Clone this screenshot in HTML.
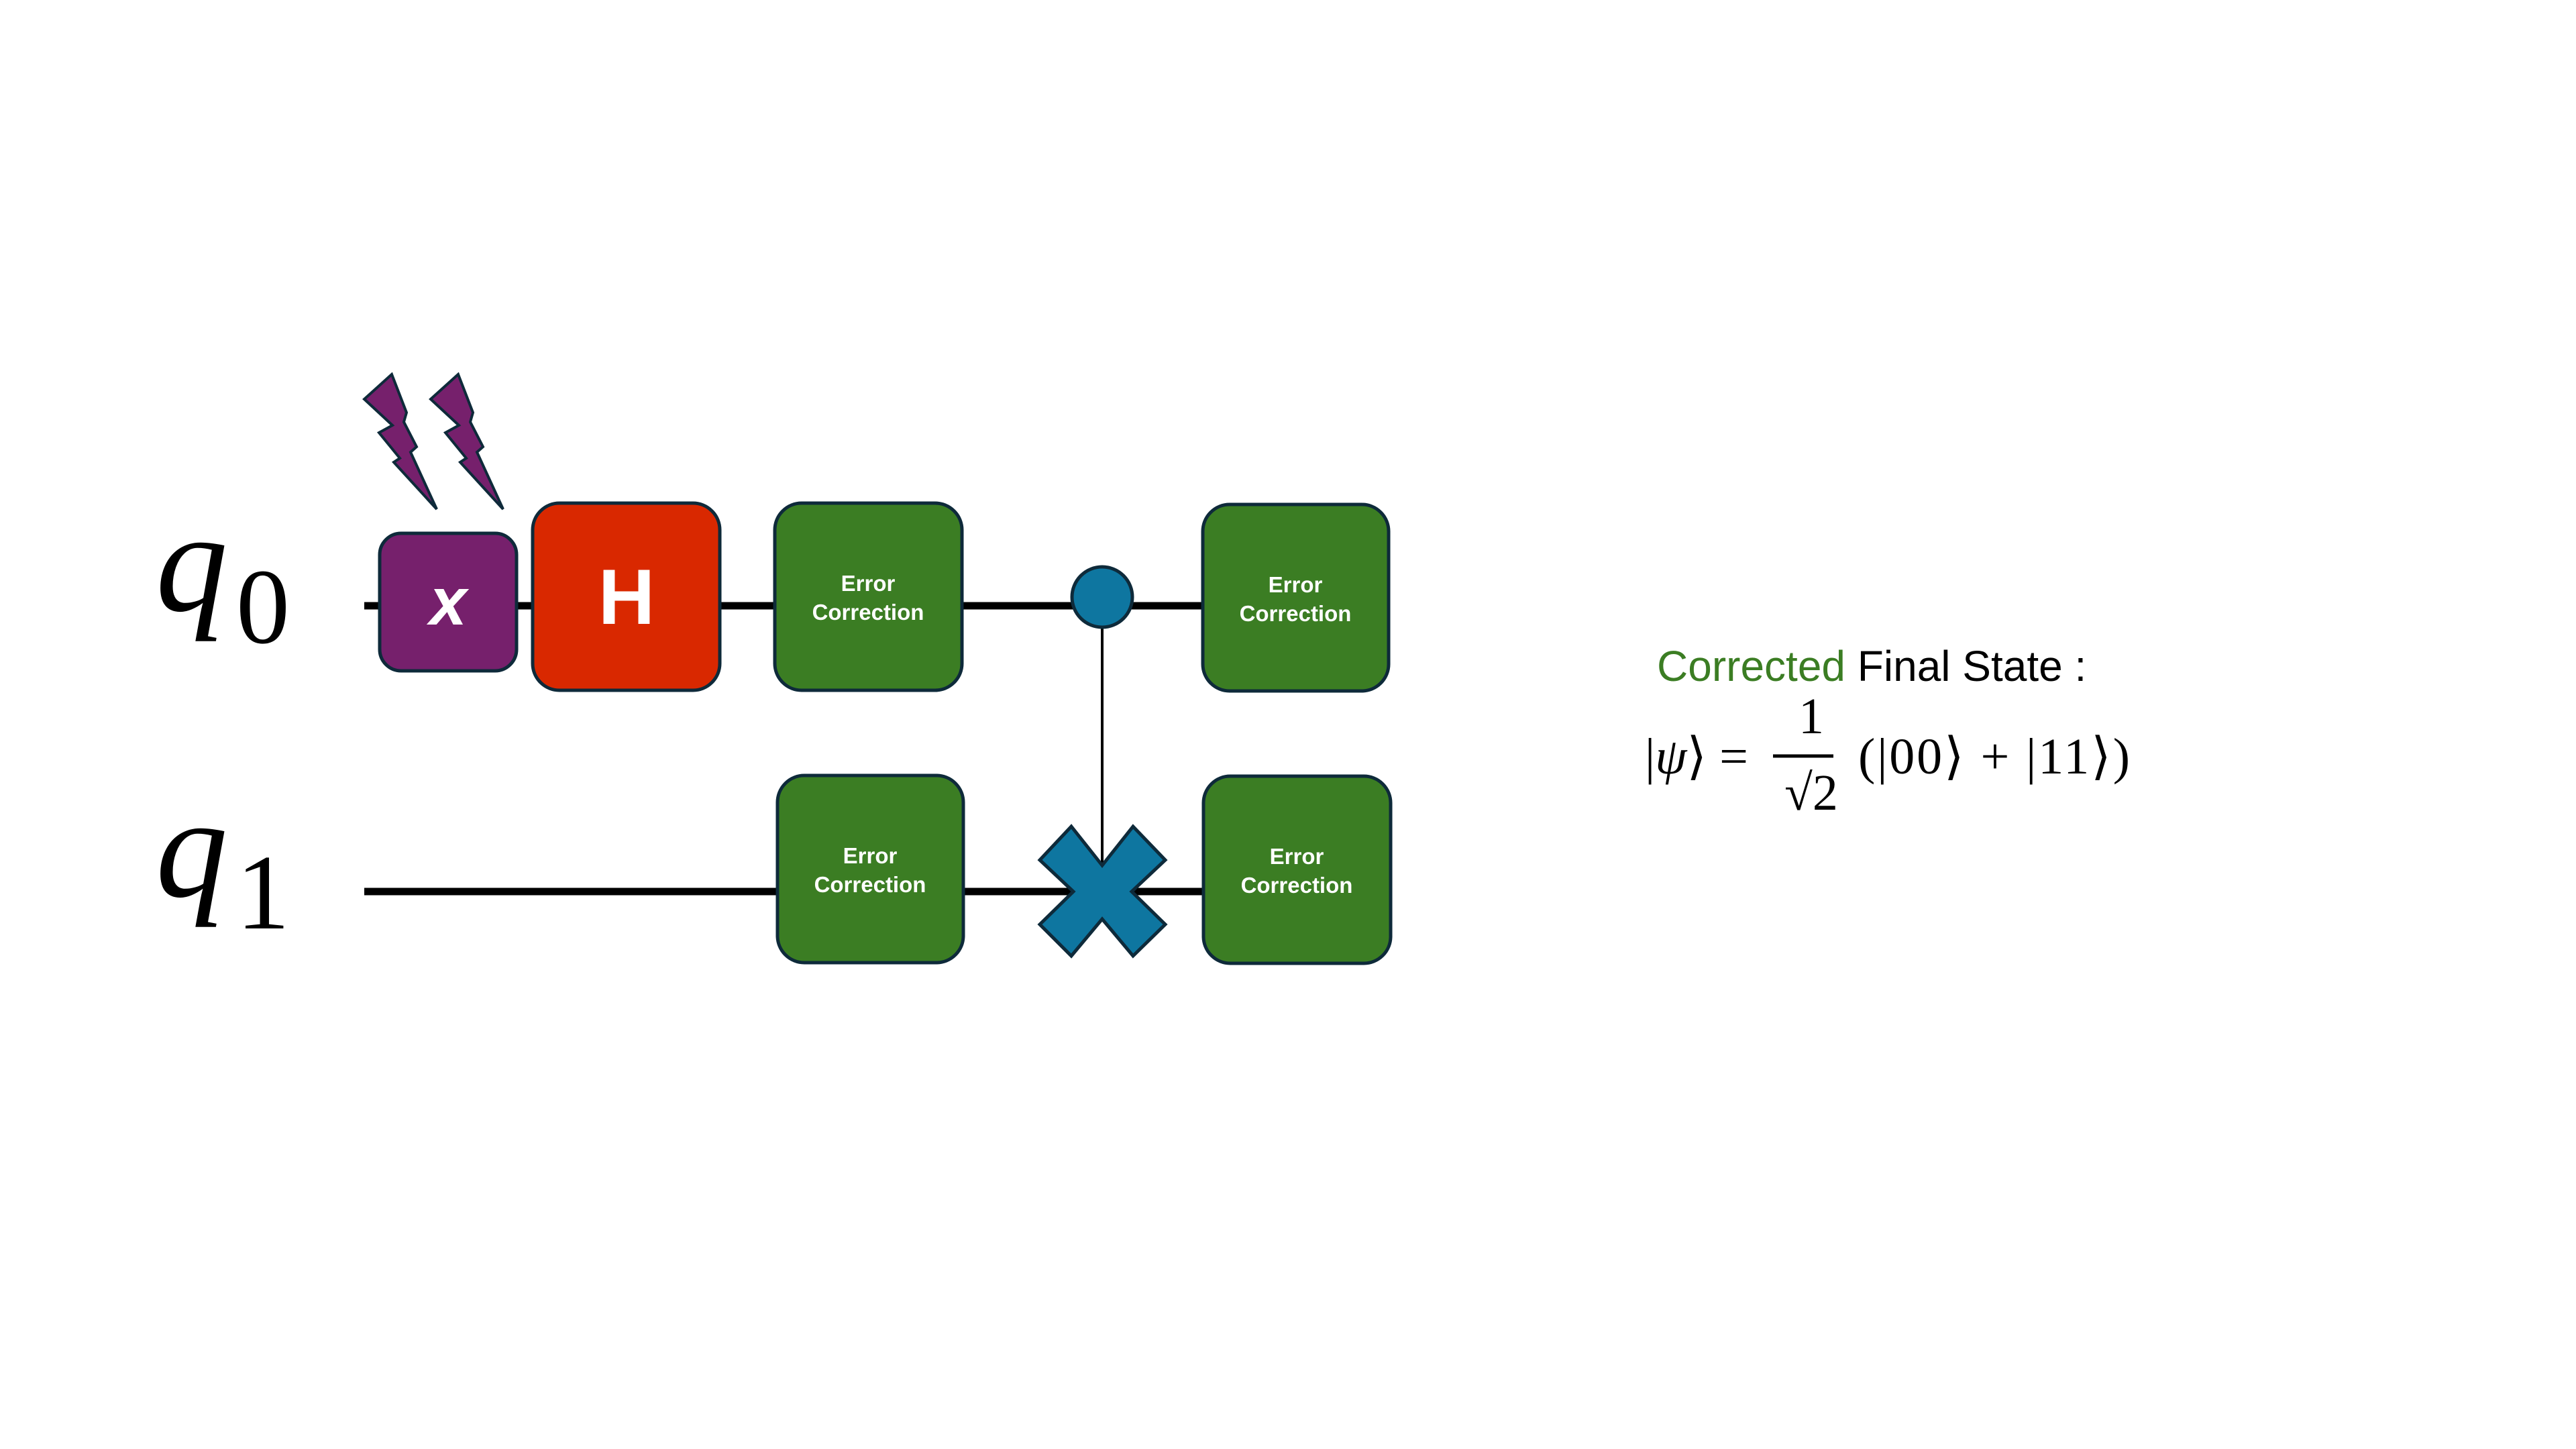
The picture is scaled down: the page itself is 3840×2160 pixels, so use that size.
<!DOCTYPE html>
<html><head><meta charset="utf-8"><style>
html,body{margin:0;padding:0;background:#fff;}
svg{display:block;}
</style></head><body>
<svg width="3840" height="2160" viewBox="0 0 3840 2160" xmlns="http://www.w3.org/2000/svg">
<rect width="3840" height="2160" fill="#fff"/>
<line x1="543" y1="903" x2="1795" y2="903" stroke="#000" stroke-width="11"/>
<line x1="543" y1="1329" x2="1795" y2="1329" stroke="#000" stroke-width="11"/>
<line x1="1643" y1="903" x2="1643" y2="1290" stroke="#000" stroke-width="4"/>
<g fill="#76206C" stroke="#0E2A3A" stroke-width="4" stroke-linejoin="miter">
<polygon points="584,558 543,595 585,634 565,645 596,683 587,689 651,759 612,674 621,666 602,629 606,615"/>
<polygon points="683,558 642,595 684,634 664,645 695,683 686,689 750,759 711,674 720,666 701,629 705,615"/>
</g>
<g stroke="#0E2A3A" stroke-width="5">
<rect x="566" y="795" width="204" height="205" rx="32" fill="#76206C"/>
<rect x="794" y="750" width="279" height="279" rx="40" fill="#D92800"/>
<rect x="1155" y="750" width="279" height="279" rx="40" fill="#3B7D23"/>
<rect x="1793" y="752" width="277" height="278" rx="40" fill="#3B7D23"/>
<rect x="1159" y="1156" width="277" height="279" rx="40" fill="#3B7D23"/>
<rect x="1794" y="1157" width="279" height="279" rx="40" fill="#3B7D23"/>
<circle cx="1643" cy="890" r="45" fill="#0E76A0"/>
<polygon fill="#0E76A0" points="1597,1232 1643,1290 1689,1232 1737,1282 1687,1329 1737,1378 1689,1425 1643,1370 1597,1425 1550,1378 1600,1329 1550,1282"/>
</g>
<g font-family="Liberation Sans, sans-serif" fill="#fff" font-weight="bold" text-anchor="middle">
<text x="668" y="931" font-size="100" font-style="italic">x</text>
<text x="934" y="930" font-size="117">H</text>
<g font-size="33">
<text x="1294" y="881">Error</text><text x="1294" y="924">Correction</text>
<text x="1931" y="883">Error</text><text x="1931" y="926">Correction</text>
<text x="1297" y="1287">Error</text><text x="1297" y="1330">Correction</text>
<text x="1933" y="1288">Error</text><text x="1933" y="1331">Correction</text>
</g>
</g>
<g font-family="Liberation Serif, serif" fill="#000">
<text x="232" y="910" font-size="215" font-style="italic">q</text>
<text x="352" y="958" font-size="160">0</text>
<text x="232" y="1336" font-size="215" font-style="italic">q</text>
<text x="352" y="1384" font-size="160">1</text>
</g>
<text x="2470" y="1015" font-family="Liberation Sans, sans-serif" font-size="64" fill="#000"><tspan fill="#3B7D23">Corrected</tspan> Final State :</text>
<g font-family="Liberation Serif, serif" fill="#000" font-size="76">
<text x="2452" y="1153">|<tspan font-style="italic">ψ</tspan>⟩ =</text>
<text x="2700" y="1093" text-anchor="middle">1</text>
<line x1="2643" y1="1127" x2="2733" y2="1127" stroke="#000" stroke-width="5"/>
<text x="2700" y="1207" text-anchor="middle">√2</text>
<text x="2770" y="1153" textLength="405" lengthAdjust="spacing">(|00⟩ +  |11⟩)</text>
</g>
</svg>
</body></html>
